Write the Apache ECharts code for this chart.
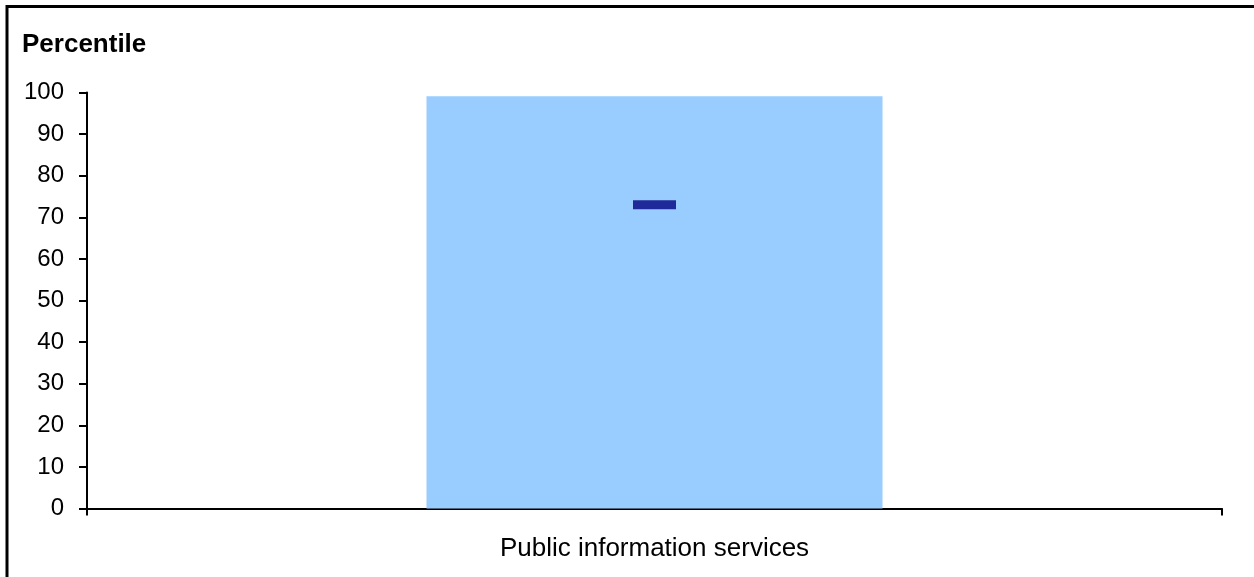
<!DOCTYPE html>
<html>
<head>
<meta charset="utf-8">
<script src="https://cdn.jsdelivr.net/npm/echarts@6/dist/echarts.min.js"></script>
<style>
html,body{margin:0;padding:0;background:#fff;}
#chart{width:1254px;height:577px;}
</style>
</head>
<body>
<div id="chart"></div>
<script>
const categories = ["Public information services"];
const barValues = [99.1];
const markerValues = [73];
const yTicks = { min: 0, max: 100, interval: 10 };

const chart = echarts.init(document.getElementById('chart'), null, { renderer: 'canvas' });
const font = "'Liberation Sans', Arial, sans-serif";
chart.setOption({
  animation: false,
  backgroundColor: '#ffffff',
  title: {
    text: 'Percentile',
    left: 17, top: 27,
    textStyle: { fontFamily: font, fontWeight: 'bold', fontSize: 26, color: '#000' }
  },
  graphic: [{
    type: 'polyline',
    shape: { points: [[7, 600], [7, 6.5], [1300, 6.5]] },
    style: { stroke: '#000', lineWidth: 3, fill: null }
  }],
  grid: { left: 87, right: 32, top: 92.5, bottom: 68.5, containLabel: false },
  xAxis: {
    type: 'category',
    data: categories,
    boundaryGap: true,
    axisLine: { show: true, lineStyle: { color: '#000', width: 2 } },
    axisTick: { show: true, length: 7, lineStyle: { color: '#000', width: 2 } },
    axisLabel: { fontFamily: font, fontSize: 26, color: '#000', margin: 27 },
    splitLine: { show: false }
  },
  yAxis: {
    type: 'value',
    min: yTicks.min, max: yTicks.max, interval: yTicks.interval,
    axisLine: { show: true, lineStyle: { color: '#000', width: 2 } },
    axisTick: { show: true, length: 8, lineStyle: { color: '#000', width: 2 } },
    axisLabel: { fontFamily: font, fontSize: 24, color: '#000', margin: 23 },
    splitLine: { show: false }
  },
  series: [{
    type: 'bar',
    data: barValues,
    barWidth: 456,
    itemStyle: { color: '#99CCFF' },
    z: 1
  }, {
    type: 'scatter',
    data: markerValues,
    symbol: 'rect',
    symbolSize: [43, 9],
    itemStyle: { color: '#000080' },
    z: 3
  }]
});
</script>
</body>
</html>
